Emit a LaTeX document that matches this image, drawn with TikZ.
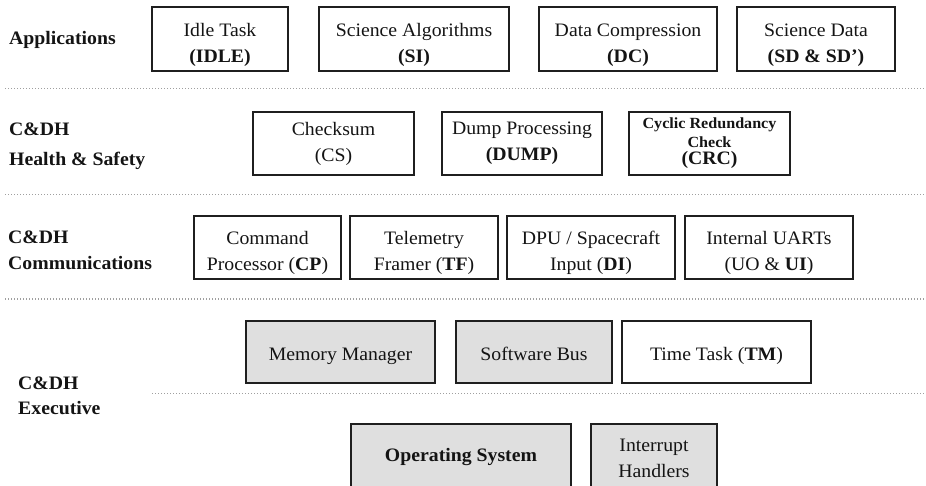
\documentclass[tikz,border=0pt]{standalone}
\usepackage{fontspec}
\setmainfont{Liberation Serif}[FakeStretch=1.04]
\begin{document}
\begin{tikzpicture}[x=1pt,y=-1pt,
  blk/.style={draw=black!88, line width=1.4pt, inner sep=0pt},
  grey/.style={fill=gray!25},
  txt/.style={inner sep=0pt, align=center, text=black!92,
    font=\fontsize{19}{26}\selectfont},
  one/.style={txt, text height=13pt, text depth=4pt},
  layer/.style={anchor=west, inner sep=0pt, align=left,
    font=\fontsize{19}{23}\selectfont\bfseries, text=black!92},
  sep/.style={draw=gray!75, line width=1pt, dash pattern=on 1pt off 2pt}]
\useasboundingbox (0,0) rectangle (926,486);
\clip (0,0) rectangle (926,486);

% layer titles
\node[layer] (lapp) at (9,40) {Applications};
\node[layer] (lhs)  at (9,146) {C\&DH\\[7pt]Health \& Safety};
\node[layer] (lcom) at (8,250) {C\&DH\\[3pt]Communications};
\node[layer] (lexe) at (18,396) {C\&DH\\[2pt]Executive};

% separators between layers
\coordinate (s1a) at (5,89);   \coordinate (s1b) at (926,89);
\coordinate (s2a) at (5,195);  \coordinate (s2b) at (926,195);
\coordinate (s3a) at (5,299);  \coordinate (s3b) at (926,299);
\coordinate (s4a) at (152,393);\coordinate (s4b) at (926,393);
\draw[sep] (s1a) -- (s1b);
\draw[sep] (s2a) -- (s2b);
\draw[sep] (s3a) -- (s3b);
\draw[sep] (s4a) -- (s4b);

% applications
\node[blk, minimum width=136pt, minimum height=64pt] (idle) at (220,39) {};
\node[blk, minimum width=190pt, minimum height=64pt] (si) at (414,39) {};
\node[blk, minimum width=178pt, minimum height=64pt] (dc) at (628,39) {};
\node[blk, minimum width=158pt, minimum height=64pt] (sd) at (816,39) {};
\node[txt] (idle-t) at ([yshift=-6pt]idle.center) {Idle Task\\\textbf{(IDLE)}};
\node[txt] (si-t) at ([yshift=-6pt]si.center) {Science Algorithms\\\textbf{(SI)}};
\node[txt] (dc-t) at ([yshift=-6pt]dc.center) {Data Compression\\\textbf{(DC)}};
\node[txt] (sd-t) at ([yshift=-6pt]sd.center) {Science Data\\\textbf{(SD \& SD’)}};

% health & safety
\node[blk, minimum width=161pt, minimum height=63pt] (cs) at (333.5,143.5) {};
\node[blk, minimum width=160pt, minimum height=63pt] (dump) at (522,143.5) {};
\node[blk, minimum width=161pt, minimum height=63pt] (crc) at (709.5,143.5) {};
\node[txt] (cs-t) at (cs.center) {Checksum\\(CS)};
\node[txt] (dump-t) at (dump.center) {Dump Processing\\\textbf{(DUMP)}};
\node[txt, font=\fontsize{19}{23}\selectfont] (crc-t) at (crc.center)
  {{\fontsize{15.5}{16}\selectfont\bfseries Cyclic Redundancy}\\[-4pt]
   {\fontsize{15.5}{16}\selectfont\bfseries Check}\\[-6pt]
   {\bfseries (CRC)}};

% communications
\node[blk, minimum width=147pt, minimum height=63pt] (cp) at (267.5,247.5) {};
\node[blk, minimum width=148pt, minimum height=63pt] (tf) at (424,247.5) {};
\node[blk, minimum width=168pt, minimum height=63pt] (di) at (591,247.5) {};
\node[blk, minimum width=168pt, minimum height=63pt] (uart) at (769,247.5) {};
\node[txt] (cp-t) at ([yshift=-5pt]cp.center) {Command\\Processor (\textbf{CP})};
\node[txt] (tf-t) at ([yshift=-5pt]tf.center) {Telemetry\\Framer (\textbf{TF})};
\node[txt] (di-t) at ([yshift=-5pt]di.center) {DPU / Spacecraft\\Input (\textbf{DI})};
\node[txt] (uart-t) at ([yshift=-5pt]uart.center) {Internal UARTs\\(UO \& \textbf{UI})};

% executive, upper row
\node[blk, grey, minimum width=189pt, minimum height=62pt] (mm) at (340.5,352) {};
\node[blk, grey, minimum width=156pt, minimum height=62pt] (sb) at (534,352) {};
\node[blk, minimum width=189pt, minimum height=62pt] (tm) at (716.5,352) {};
\node[one] (mm-t) at ([yshift=-4pt]mm.center) {Memory Manager};
\node[one] (sb-t) at ([yshift=-4pt]sb.center) {Software Bus};
\node[one] (tm-t) at ([yshift=-4pt]tm.center) {Time Task (\textbf{TM})};

% executive, lower row
\node[blk, grey, minimum width=220pt, minimum height=66pt] (os) at (461,457) {};
\node[blk, grey, minimum width=126pt, minimum height=66pt] (ih) at (654,457) {};
\node[one] (os-t) at ([yshift=0.5pt]os.center) {\textbf{Operating System}};
\node[txt] (ih-t) at ([yshift=-1.5pt]ih.center) {Interrupt\\Handlers};
\end{tikzpicture}
\end{document}
